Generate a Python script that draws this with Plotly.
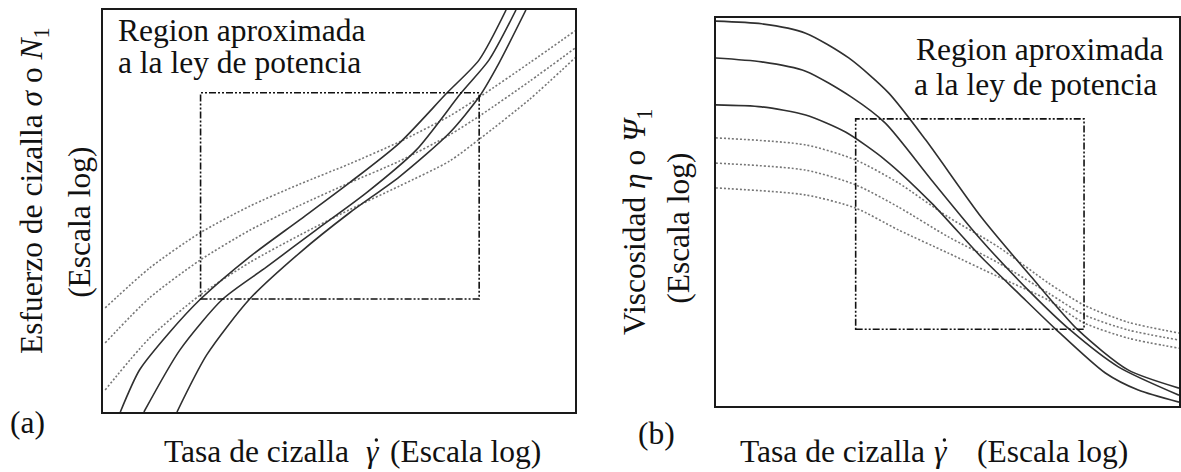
import plotly.graph_objects as go

# ---------------- data (arbitrary log units, 0-10 on each axis) ----------------
# Panel (a): shear stress vs shear rate
a_solid1_x = [0.37, 0.78, 1.42, 2.07, 3.11, 4.17, 5.22, 6.28, 7.29, 7.97, 8.54]
a_solid1_y = [0.00, 1.05, 1.99, 2.81, 3.86, 4.78, 5.70, 6.69, 7.94, 8.76, 10.0]
a_solid2_x = [0.87, 1.63, 2.54, 3.47, 4.52, 5.58, 6.64, 7.59, 8.18, 8.75]
a_solid2_y = [0.00, 1.54, 2.81, 3.61, 4.53, 5.45, 6.52, 7.94, 8.76, 10.0]
a_solid3_x = [1.57, 2.20, 3.11, 4.17, 5.22, 6.28, 7.34, 7.97, 8.39, 8.96]
a_solid3_y = [0.00, 1.42, 2.81, 3.96, 4.95, 5.85, 6.94, 7.84, 8.68, 10.0]

a_dot_x = [0.05, 0.99, 2.05, 3.11, 4.17, 5.22, 6.28, 7.34, 8.01, 9.03, 10.0]
a_dot1_y = [2.59, 3.58, 4.45, 5.12, 5.67, 6.17, 6.72, 7.36, 7.86, 8.68, 9.48]
a_dot2_y = [1.72, 2.84, 3.77, 4.52, 5.14, 5.70, 6.24, 6.89, 7.39, 8.22, 9.05]
a_dot3_y = [0.55, 1.84, 2.90, 3.72, 4.40, 5.03, 5.62, 6.24, 6.82, 7.77, 8.81]

a_region_x = [2.07, 7.97]
a_region_y = [2.81, 7.94]

# Panel (b): viscosity vs shear rate
b_solid1_x = [0.00, 0.99, 1.94, 2.87, 3.73, 4.53, 5.73, 6.81, 7.82, 8.90, 10.0]
b_solid1_y = [9.92, 9.85, 9.61, 8.97, 8.07, 6.86, 4.87, 3.33, 1.96, 0.93, 0.46]
b_solid2_x = [0.00, 0.99, 1.94, 2.93, 3.66, 4.66, 5.73, 6.81, 7.65, 8.69, 10.0]
b_solid2_y = [8.97, 8.87, 8.63, 7.96, 7.29, 5.82, 4.28, 2.91, 1.96, 1.01, 0.28]
b_solid3_x = [0.00, 0.99, 1.94, 2.80, 3.66, 4.66, 5.73, 6.53, 7.33, 8.41, 9.12, 10.0]
b_solid3_y = [7.76, 7.71, 7.50, 7.06, 6.34, 5.23, 3.84, 2.91, 1.99, 0.85, 0.41, 0.10]

b_dot_x = [0.00, 1.94, 3.02, 3.94, 5.02, 6.10, 7.18, 7.95, 8.90, 10.0]
b_dot1_y = [6.91, 6.73, 6.34, 5.75, 4.87, 4.10, 3.17, 2.60, 2.16, 1.88]
b_dot2_y = [6.26, 6.08, 5.70, 5.13, 4.36, 3.69, 2.91, 2.35, 1.96, 1.70]
b_dot3_y = [5.62, 5.44, 5.10, 4.54, 3.94, 3.33, 2.73, 2.14, 1.75, 1.49]

b_region_x = [3.02, 7.95]
b_region_y = [1.98, 7.40]

region_text = ["Region aproximada", "a la ley de potencia"]
xlabel_parts = ["Tasa de cizalla", "<i>γ</i>", "(Escala log)"]
ylabel_a = ["Esfuerzo de cizalla <i>σ</i> o <i>N</i><sub>1</sub>", "(Escala log)"]
ylabel_b = ["Viscosidad <i>η</i> o <i>Ψ</i><sub>1</sub>", "(Escala log)"]
panel_tags = ["(a)", "(b)"]

# ---------------- figure ----------------
W, H = 1181, 472
FONT = "Liberation Serif, Times New Roman, serif"
TXT = "#111111"
FS = 31.5
SOLID = dict(color="#303030", width=1.6, shape="spline", smoothing=0.7)
DOTTED = dict(color="#777777", width=1.6, dash="2px,2px", shape="spline", smoothing=0.7)

fig = go.Figure()

def add(x, y, line, xa, ya):
    fig.add_trace(go.Scatter(x=x, y=y, mode="lines", line=line,
                             xaxis=xa, yaxis=ya, hoverinfo="skip", showlegend=False))

for yy in (a_dot1_y, a_dot2_y, a_dot3_y):
    add(a_dot_x, yy, DOTTED, "x", "y")
for xx, yy in ((a_solid1_x, a_solid1_y), (a_solid2_x, a_solid2_y), (a_solid3_x, a_solid3_y)):
    add(xx, yy, SOLID, "x", "y")
for yy in (b_dot1_y, b_dot2_y, b_dot3_y):
    add(b_dot_x, yy, DOTTED, "x2", "y2")
for xx, yy in ((b_solid1_x, b_solid1_y), (b_solid2_x, b_solid2_y), (b_solid3_x, b_solid3_y)):
    add(xx, yy, SOLID, "x2", "y2")

RECT_LINE = dict(color="#111111", width=1.6, dash="7px,2px,2px,2px,2px,2px")
fig.add_shape(type="rect", xref="x", yref="y", x0=a_region_x[0], x1=a_region_x[1],
              y0=a_region_y[0], y1=a_region_y[1], line=RECT_LINE)
fig.add_shape(type="rect", xref="x2", yref="y2", x0=b_region_x[0], x1=b_region_x[1],
              y0=b_region_y[0], y1=b_region_y[1], line=RECT_LINE)

def px_x(p):
    return p / W

def px_y(p):
    return 1 - p / H

# dot above gamma (time-derivative mark), drawn as a tiny filled circle
for cx, cy in ((377, 440), (946, 440)):
    r = 1.7
    fig.add_shape(type="circle", xref="paper", yref="paper",
                  x0=px_x(cx - r), x1=px_x(cx + r), y0=px_y(cy + r), y1=px_y(cy - r),
                  fillcolor=TXT, line=dict(width=0))

ax_common = dict(showticklabels=False, ticks="", showgrid=False, zeroline=False,
                 showline=True, mirror=True, linecolor="#1a1a1a", linewidth=1.8,
                 range=[0, 10], fixedrange=True)

fig.update_layout(
    width=W, height=H,
    margin=dict(l=0, r=0, t=0, b=0),
    paper_bgcolor="white", plot_bgcolor="white",
    xaxis=dict(domain=[px_x(103), px_x(576)], anchor="y", **ax_common),
    yaxis=dict(domain=[px_y(412), px_y(10)], anchor="x", **ax_common),
    xaxis2=dict(domain=[px_x(717), px_x(1181)], anchor="y2", **ax_common),
    yaxis2=dict(domain=[px_y(406), px_y(18)], anchor="x2", **ax_common),
    font=dict(family=FONT, color=TXT, size=FS),
)

def ann(text, x, y, xanchor="left", angle=0, size=FS):
    fig.add_annotation(text=text, xref="paper", yref="paper", x=px_x(x), y=px_y(y),
                       xanchor=xanchor, yanchor="middle", showarrow=False,
                       textangle=angle, font=dict(family=FONT, size=size, color=TXT))

# region texts
ann(region_text[0], 116, 30)
ann(region_text[1], 116, 63)
ann(region_text[0], 916, 50)
ann(region_text[1], 914, 85)

# x labels (text, gamma, scale note)
ann(xlabel_parts[0], 162, 451)
ann(xlabel_parts[1], 374, 451, xanchor="center")
ann(xlabel_parts[2], 389, 451)

ann(xlabel_parts[0], 739, 451)
ann(xlabel_parts[1], 943, 451, xanchor="center")
ann(xlabel_parts[2], 977, 451)

# y labels
ann(ylabel_a[0], 34, 190, xanchor="center", angle=-90)
ann(ylabel_a[1], 79, 222, xanchor="center", angle=-90)
ann(ylabel_b[0], 638, 222, xanchor="center", angle=-90)
ann(ylabel_b[1], 679, 228, xanchor="center", angle=-90)

# panel tags
ann(panel_tags[0], 28, 422, xanchor="center")
ann(panel_tags[1], 658, 433, xanchor="center")

fig.write_html("out.html")
